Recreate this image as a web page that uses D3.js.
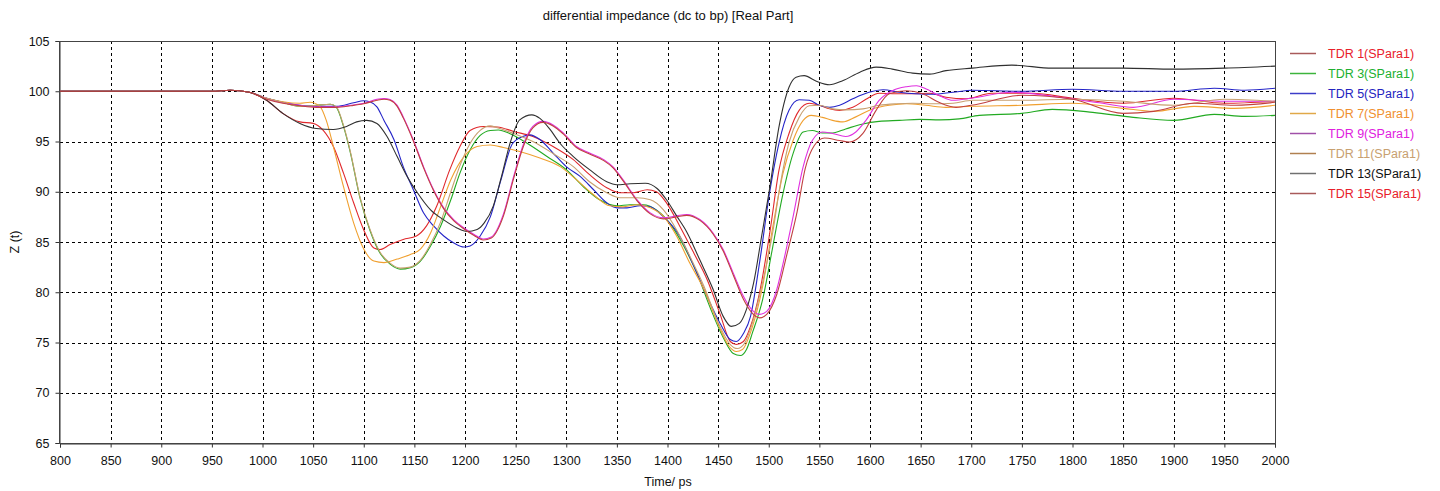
<!DOCTYPE html>
<html><head><meta charset="utf-8">
<script src="https://cdn.jsdelivr.net/npm/d3@7"></script>
<style>
body{margin:0;background:#fff;}
svg{display:block;font-family:"Liberation Sans",Arial,sans-serif;}
</style></head>
<body><svg id="c" width="1440" height="491"></svg>
<script>
const xTicks = [800,850,900,950,1000,1050,1100,1150,1200,1250,1300,1350,1400,1450,1500,1550,1600,1650,1700,1750,1800,1850,1900,1950,2000];
const yTicks = [65,70,75,80,85,90,95,100,105];
const seriesNames = ["TDR 1(SPara1)","TDR 3(SPara1)","TDR 5(SPara1)","TDR 7(SPara1)","TDR 9(SPara1)","TDR 11(SPara1)","TDR 13(SPara1)","TDR 15(SPara1)"];

const tdr1 = [[800,100],[950,100],[968,100.1],[987,99.9],[1004,99.1],[1020,97.8],[1037,96.95],[1050,96.8],[1060,96.1],[1070,94.5],[1080,91.85],[1090,88.9],[1100,86.2],[1110,84.4],[1116,84.25],[1126,84.75],[1139,85.25],[1152,85.6],[1162,86.6],[1172,88.55],[1185,92.2],[1195,94.5],[1205,96.1],[1218,96.5],[1232,96.45],[1248,96.0],[1267,95.5],[1287,94.5],[1307,93.2],[1323,91.7],[1340,90.4],[1353,89.9],[1366,89.9],[1380,90.2],[1389,90.0],[1399,88.9],[1412,86.6],[1426,83.9],[1439,81.3],[1452,77.8],[1462,75.1],[1468,74.8],[1475,75.1],[1482,76.6],[1491,80.0],[1501,85.9],[1510,92.1],[1520,95.8],[1530,98.1],[1540,98.8],[1550,98.6],[1560,98.25],[1570,98.1],[1583,98.4],[1596,99.2],[1609,99.8],[1626,99.75],[1642,99.75],[1659,99.8],[1675,99.4],[1695,99.25],[1720,99.8],[1760,99.8],[1800,99.3],[1850,98.8],[1900,99.3],[1950,98.8],[2000,99.0]];
const tdr3 = [[800,100],[950,100],[968,100.1],[987,99.9],[1004,99.3],[1020,98.9],[1037,98.5],[1053,98.6],[1067,98.7],[1073,98.4],[1080,96.5],[1087,93.8],[1096,89.5],[1106,86.2],[1116,83.9],[1126,82.8],[1136,82.3],[1146,82.45],[1156,83.1],[1166,84.6],[1176,86.6],[1186,89.2],[1195,91.85],[1205,94.15],[1215,95.6],[1225,96.1],[1233,96.15],[1244,95.8],[1261,94.85],[1281,93.5],[1300,92.2],[1317,90.5],[1333,89.2],[1350,88.6],[1363,88.7],[1376,88.7],[1389,88.2],[1402,86.9],[1416,84.6],[1429,81.9],[1442,78.5],[1455,75.5],[1465,73.9],[1472,73.7],[1478,74.3],[1484,76],[1494,79.3],[1504,84.55],[1514,89.8],[1524,93.8],[1534,95.95],[1543,96.1],[1553,95.85],[1563,95.85],[1576,96.25],[1593,96.75],[1609,97.0],[1629,97.1],[1649,97.2],[1669,97.15],[1688,97.25],[1708,97.6],[1750,97.8],[1780,98.2],[1820,97.9],[1860,97.4],[1900,97.1],[1940,97.7],[1970,97.5],[2000,97.6]];
const tdr5 = [[800,100],[950,100],[968,100.1],[987,99.9],[1004,99.3],[1020,98.9],[1037,98.6],[1053,98.5],[1073,98.5],[1090,98.85],[1100,99.05],[1106,98.95],[1113,98.45],[1120,97.1],[1130,95.15],[1139,92.5],[1149,90.2],[1159,87.9],[1169,86.6],[1179,85.6],[1189,84.9],[1199,84.5],[1205,84.6],[1215,85.6],[1225,87.5],[1235,91],[1247,94.8],[1257,95.5],[1264,95.66],[1274,95.2],[1287,93.85],[1300,92.5],[1314,91.5],[1327,90.2],[1340,88.9],[1350,88.4],[1360,88.4],[1373,88.6],[1383,88.5],[1395,87.6],[1412,85.6],[1426,82.6],[1439,79.6],[1452,76.9],[1462,75.3],[1468,75.1],[1475,75.9],[1482,77.6],[1491,83.0],[1501,90.0],[1510,94.8],[1520,98.1],[1530,99.15],[1540,99.1],[1550,98.6],[1560,98.4],[1570,98.6],[1583,99.25],[1599,99.9],[1613,100.15],[1629,99.9],[1645,99.75],[1662,99.7],[1682,99.9],[1701,100.1],[1750,100.0],[1800,100.2],[1850,100.0],[1900,100.0],[1940,100.3],[1970,100.1],[2000,100.3]];
const tdr7 = [[800,100],[950,100],[968,100.1],[987,99.9],[1004,99.3],[1020,98.95],[1037,98.8],[1047,98.9],[1057,98.45],[1063,97.1],[1070,94.5],[1080,90.5],[1090,86.9],[1100,84.3],[1110,83.1],[1120,82.95],[1133,83.3],[1146,83.75],[1156,84.3],[1166,85.9],[1176,88.55],[1186,91.2],[1199,93.5],[1212,94.5],[1225,94.65],[1238,94.4],[1254,94.0],[1274,93.35],[1294,92.5],[1310,91.2],[1327,89.7],[1343,88.6],[1356,88.5],[1370,88.7],[1383,88.4],[1396,87.55],[1409,85.6],[1422,82.9],[1436,80.3],[1450,76.8],[1461,74.6],[1468,74.1],[1474,74.3],[1484,76.6],[1494,80.6],[1504,86.5],[1514,91.8],[1524,95.1],[1534,97.1],[1542,97.6],[1553,97.4],[1563,97.1],[1573,96.95],[1586,97.45],[1603,98.25],[1619,98.6],[1636,98.75],[1655,98.6],[1675,98.4],[1700,98.5],[1750,98.6],[1800,98.8],[1850,98.3],[1880,98.0],[1920,98.5],[1960,98.3],[2000,98.6]];
const tdr9 = [[800,100],[950,100],[968,100.1],[987,99.9],[1004,99.3],[1020,98.85],[1037,98.6],[1053,98.45],[1073,98.45],[1087,98.6],[1100,98.8],[1113,99.2],[1120,99.27],[1126,99.17],[1133,98.6],[1139,97.45],[1149,95.15],[1159,92.5],[1169,90.2],[1179,88.4],[1189,87.2],[1199,86.4],[1209,85.75],[1218,85.3],[1226,85.5],[1238,87.8],[1248,91.5],[1258,94.8],[1267,96.5],[1277,97.0],[1287,96.65],[1297,95.85],[1310,94.5],[1323,93.85],[1337,93.2],[1346,92.5],[1356,91.2],[1370,89.2],[1383,87.9],[1396,87.4],[1409,87.6],[1419,87.74],[1432,87.24],[1445,85.9],[1455,84.25],[1465,81.9],[1475,79.6],[1483,78.3],[1491,77.8],[1498,78.1],[1508,80.3],[1514,82.8],[1524,87.5],[1534,92.5],[1543,95.1],[1553,95.95],[1563,95.8],[1576,95.5],[1586,95.95],[1596,97.1],[1609,99.1],[1622,100.05],[1636,100.45],[1646,100.55],[1655,100.25],[1668,99.6],[1682,99.1],[1700,99.3],[1740,99.9],[1780,99.5],[1830,98.8],[1860,98.4],[1900,99.2],[1950,99.0],[2000,99.0]];
const tdr11 = [[800,100],[950,100],[968,100.1],[987,99.9],[1004,99.3],[1020,98.9],[1037,98.5],[1053,98.6],[1067,98.7],[1073,98.45],[1080,96.6],[1087,93.9],[1096,89.6],[1106,86.3],[1116,84.0],[1126,82.9],[1136,82.4],[1146,82.5],[1156,83.2],[1166,84.8],[1176,87.0],[1186,90],[1195,92.6],[1205,94.8],[1215,96.1],[1225,96.55],[1231,96.4],[1248,95.8],[1267,95],[1287,93.8],[1307,92.5],[1323,91.0],[1340,89.9],[1353,89.4],[1370,89.4],[1383,89.2],[1396,88.2],[1409,86.2],[1422,83.6],[1436,80.6],[1450,77],[1462,74.8],[1469,74.4],[1476,74.9],[1484,77],[1494,81],[1504,86],[1511,90.5],[1520,94.9],[1530,97.4],[1540,98.55],[1550,98.6],[1563,98.25],[1576,98.15],[1593,98.25],[1609,98.6],[1626,98.75],[1642,98.8],[1662,98.75],[1682,98.8],[1701,99.1],[1750,99.1],[1800,99.2],[1850,99.0],[1900,98.6],[1950,99.2],[2000,99.0]];
const tdr13 = [[800,100],[950,100],[968,100.1],[987,99.9],[1004,99.1],[1020,97.8],[1037,96.8],[1053,96.3],[1070,96.2],[1083,96.5],[1093,96.95],[1103,97.1],[1113,96.8],[1123,95.5],[1133,93.5],[1143,91.5],[1153,89.9],[1166,88.2],[1179,87.2],[1192,86.4],[1202,86.05],[1212,86.25],[1219,86.9],[1228,88.6],[1236,91.5],[1245,95.0],[1254,97.15],[1266,97.65],[1274,97.3],[1284,96.2],[1294,94.8],[1307,93.5],[1323,92.2],[1340,91.0],[1350,90.7],[1363,90.8],[1378,90.85],[1390,90.3],[1399,89.2],[1409,87.6],[1419,86.0],[1432,83.2],[1445,80.3],[1455,77.6],[1463,76.6],[1471,76.9],[1478,78.3],[1485,80.9],[1493,85.6],[1501,90.4],[1510,96.4],[1520,100.4],[1527,101.4],[1535,101.55],[1547,101.0],[1560,100.65],[1573,101.05],[1590,101.9],[1606,102.4],[1622,102.2],[1642,101.8],[1659,101.7],[1675,102.05],[1701,102.3],[1740,102.6],[1780,102.3],[1850,102.3],[1900,102.2],[1950,102.3],[2000,102.5]];
const tdr15 = [[800,100],[950,100],[968,100.1],[987,99.9],[1004,99.2],[1020,98.8],[1037,98.55],[1053,98.4],[1073,98.4],[1087,98.55],[1100,98.75],[1113,99.1],[1120,99.2],[1126,99.1],[1133,98.5],[1139,97.35],[1149,95.05],[1159,92.4],[1169,90.1],[1179,88.3],[1189,87.1],[1199,86.3],[1209,85.65],[1218,85.2],[1226,85.4],[1238,87.6],[1248,91.3],[1258,94.6],[1267,96.35],[1277,96.9],[1287,96.55],[1297,95.75],[1310,94.4],[1323,93.75],[1337,93.1],[1346,92.4],[1356,91.1],[1370,89.1],[1383,87.8],[1396,87.3],[1409,87.5],[1419,87.65],[1432,87.15],[1445,85.8],[1455,84.1],[1465,81.7],[1475,79.3],[1483,78.0],[1491,77.45],[1498,77.8],[1508,79.8],[1518,83.8],[1528,88.0],[1536,92.3],[1545,94.6],[1555,95.35],[1570,95.1],[1580,94.95],[1593,95.8],[1606,98.1],[1619,99.75],[1636,100.05],[1652,99.75],[1668,98.9],[1685,98.4],[1700,98.6],[1750,99.6],[1800,99.2],[1850,97.8],[1880,98.0],[1920,98.8],[1960,98.6],[2000,98.9]];

const seriesData = [tdr1,tdr3,tdr5,tdr7,tdr9,tdr11,tdr13,tdr15];
const lineColors = ["#e0282c","#22aa22","#2424c8","#f0a030","#e030e0","#c8a070","#303030","#c04040"];
const legendLineColors = ["#a85a5a","#3cb43c","#3c3cc8","#e0a848","#a050a8","#b08050","#707070","#a85a5a"];
const textColors = ["#e8202a","#20b030","#2424c0","#f09030","#e020e0","#c8a070","#101010","#e8202a"];

const svg = d3.select("#c");
const m = {l:60, r:1275, t:41, b:443};
const x = d3.scaleLinear().domain([800,2000]).range([m.l,m.r]);
const y = d3.scaleLinear().domain([65,105]).range([m.b,m.t]);

svg.append("text").attr("x",668).attr("y",20).attr("text-anchor","middle")
  .attr("font-size",13).attr("fill","#111").text("differential impedance (dc to bp) [Real Part]");

// grid
const g = svg.append("g");
g.selectAll(".vg").data(xTicks.slice(1,-1)).join("line")
  .attr("x1",d=>Math.round(x(d))+0.5).attr("x2",d=>Math.round(x(d))+0.5)
  .attr("y1",m.t).attr("y2",m.b).attr("stroke","#000").attr("stroke-dasharray","3,3").attr("stroke-width",1);
g.selectAll(".hg").data(yTicks.slice(1,-1)).join("line")
  .attr("y1",d=>Math.round(y(d))+0.5).attr("y2",d=>Math.round(y(d))+0.5)
  .attr("x1",m.l).attr("x2",m.r).attr("stroke","#000").attr("stroke-dasharray","3,3").attr("stroke-width",1);

// axes
const xAxis = d3.axisBottom(x).tickValues(xTicks).tickFormat(d3.format("d")).tickSize(4).tickPadding(9);
const yAxis = d3.axisLeft(y).tickValues(yTicks).tickFormat(d3.format("d")).tickSize(4).tickPadding(6);
const gx = svg.append("g").attr("transform",`translate(0,${m.b+0.5})`).call(xAxis);
const gy = svg.append("g").attr("transform",`translate(${m.l-0.5},0)`).call(yAxis);
[gx,gy].forEach(a=>{a.selectAll("text").attr("font-size",12.5).attr("fill","#111").attr("font-family","Liberation Sans, Arial, sans-serif");
  a.selectAll("line,path").attr("stroke","#333");});
svg.append("rect").attr("x",m.l-0.5).attr("y",m.t+0.5).attr("width",m.r-m.l+1).attr("height",m.b-m.t)
  .attr("fill","none").attr("stroke","#444").attr("stroke-width",1);

svg.append("text").attr("x",668).attr("y",486).attr("text-anchor","middle").attr("font-size",12.5).attr("fill","#111").text("Time/ ps");
svg.append("text").attr("transform","translate(19,242) rotate(-90)").attr("text-anchor","middle").attr("font-size",12.5).attr("fill","#111").text("Z (t)");

// lines
svg.append("clipPath").attr("id","clip").append("rect").attr("x",m.l).attr("y",m.t).attr("width",m.r-m.l).attr("height",m.b-m.t);
const line = d3.line().x(d=>x(d[0])).y(d=>y(d[1])).curve(d3.curveMonotoneX);
svg.append("g").attr("clip-path","url(#clip)").selectAll("path").data(seriesData).join("path")
  .attr("d",line).attr("fill","none").attr("stroke",(d,i)=>lineColors[i]).attr("stroke-width",1.1);

// legend
const lg = svg.append("g");
seriesNames.forEach((n,i)=>{
  const yy = 53 + i*20;
  lg.append("line").attr("x1",1290).attr("x2",1316).attr("y1",yy+0.5).attr("y2",yy+0.5).attr("stroke",legendLineColors[i]).attr("stroke-width",1.5);
  lg.append("text").attr("x",1328).attr("y",yy+4.5).attr("font-size",12.5).attr("fill",textColors[i]).text(n);
});
</script></body></html>
